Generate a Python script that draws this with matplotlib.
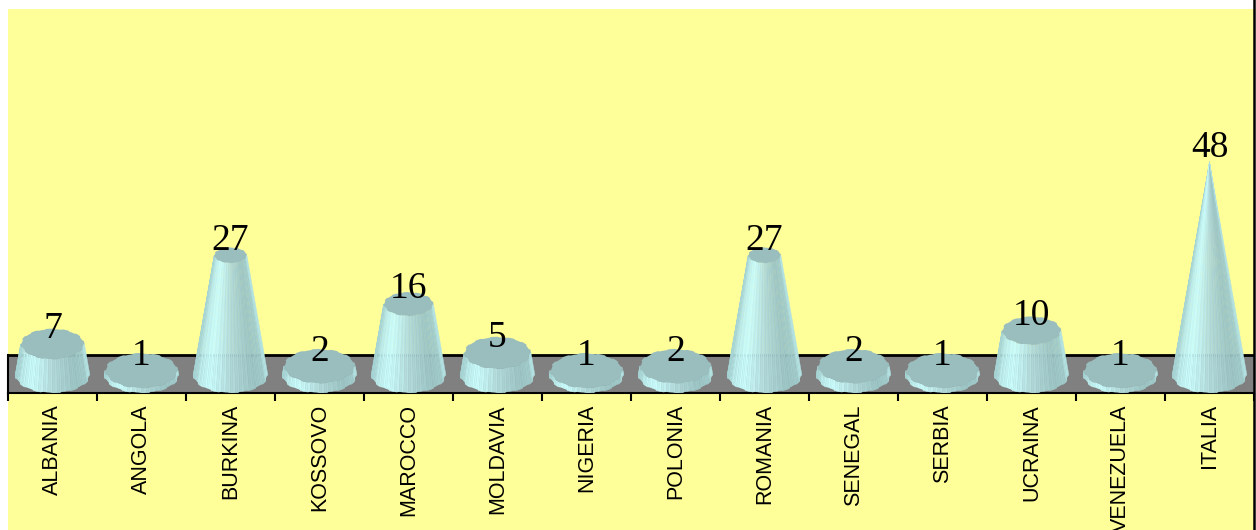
"""
Bar chart with 3D-looking cones, one per country.
"""

import numpy as np
import matplotlib
matplotlib.use('Agg')
import matplotlib.pyplot as plt
from matplotlib.collections import PolyCollection
from matplotlib.colors import LinearSegmentedColormap
from matplotlib.lines import Line2D
from matplotlib.patches import Polygon, Rectangle

countries = ['ALBANIA', 'ANGOLA', 'BURKINA', 'KOSSOVO', 'MAROCCO', 'MOLDAVIA', 'NIGERIA',
             'POLONIA', 'ROMANIA', 'SENEGAL', 'SERBIA', 'UCRAINA', 'VENEZUELA', 'ITALIA']
values = [7, 1, 27, 2, 16, 5, 1, 2, 27, 2, 1, 10, 1, 48]

W, H = 1256, 530
YELLOW = '#FFFF99'
GRAY = '#808080'
TOP_COLOR = '#9ABDBD'
side_cmap = LinearSegmentedColormap.from_list('side', [
    (0.00, '#A2CFCF'), (0.12, '#B4E2E2'), (0.30, '#CCFFFF'), (0.50, '#B2DADA'),
    (0.72, '#9CC4C4'), (0.90, '#A4CFCF'), (1.00, '#B8E6E6'),
])

# cone geometry in data units (x = category, y = value)
R = 0.42
RY = 4.05
PEAK = max(values)


def rim(theta, scale):
    # stepped outline, the cones are coarse polygons
    step = np.pi / 12
    jag = 1 - 0.04 * (np.floor(theta / step) % 2)
    return np.cos(theta) * scale * jag, np.sin(theta) * scale * jag


def draw_cone(ax, cx, value):
    scale_top = 1 - value / PEAK
    thetas = np.linspace(np.pi, 2 * np.pi, 49)
    bx, by = rim(thetas, 1)
    tx, ty = rim(thetas, scale_top)
    polys, shades = [], []
    for i in range(len(thetas) - 1):
        polys.append([
            (cx + bx[i] * R, by[i] * RY),
            (cx + bx[i + 1] * R, by[i + 1] * RY),
            (cx + tx[i + 1] * R, value + ty[i + 1] * RY),
            (cx + tx[i] * R, value + ty[i] * RY),
        ])
        shade = i / (len(thetas) - 2)
        shades.append(side_cmap(shade + 0.025 * (-1) ** i))
    ax.add_collection(PolyCollection(polys, facecolors=shades, edgecolors='face',
                                     linewidths=0.3, zorder=3))
    if scale_top > 0:
        full = np.linspace(0, 2 * np.pi, 97)
        ex, ey = rim(full, scale_top)
        top = np.column_stack([cx + ex * R, value + ey * RY])
        ax.add_patch(Polygon(top, closed=True, facecolor=TOP_COLOR, edgecolor='none', zorder=4))


fig = plt.figure(figsize=(W / 100, H / 100), dpi=100, facecolor='white')
plt.rcParams['font.family'] = ['Liberation Sans', 'DejaVu Sans']

# yellow panel behind the plot, running off the bottom edge
fig.patches.append(Rectangle((8 / W, 0), 1246 / W, 1 - 9 / H, transform=fig.transFigure,
                             facecolor=YELLOW, edgecolor='none', zorder=-5))

ax = fig.add_axes([8 / W, (H - 393) / H, 1246 / W, 384 / H])
ax.patch.set_alpha(0)
ax.set_xlim(0, len(countries))
ax.set_ylim(-4.05, 82.5)

# floor strip
ax.add_patch(Rectangle((0, -4.05), len(countries), 8.55, facecolor=GRAY, edgecolor='none', zorder=1))
ax.plot([0, len(countries)], [4.5, 4.5], color='black', lw=2, zorder=2)

positions = np.arange(len(countries)) + 0.5
for x, v in zip(positions, values):
    draw_cone(ax, x, v)
    ax.annotate(str(v), (x, v), xytext=(0, 4), textcoords='offset points', ha='center', va='baseline',
                family='Liberation Serif', fontsize=27, color='black', zorder=6)

for name in ['top', 'right']:
    ax.spines[name].set_visible(False)
ax.spines['bottom'].set_linewidth(1.5)
ax.spines['left'].set_linewidth(1.5)
ax.spines['left'].set_bounds(-4.05, 4.5)
ax.set_yticks([])

ax.set_xticks(np.arange(len(countries) + 1))
ax.set_xticklabels([])
ax.tick_params(axis='x', which='major', length=6, width=1.5, color='black')
ax.set_xticks(positions, minor=True)
ax.set_xticklabels(countries, minor=True, rotation=90, ha='center', va='top',
                   fontsize=15.5, color='black')
ax.tick_params(axis='x', which='minor', length=0, pad=8)

# black edge along the right of the panel
fig.add_artist(Line2D([1254 / W, 1254 / W], [0, 1], transform=fig.transFigure, color='black', lw=1.8))

fig.savefig('out.png', dpi=100, facecolor='white')
plt.close(fig)
